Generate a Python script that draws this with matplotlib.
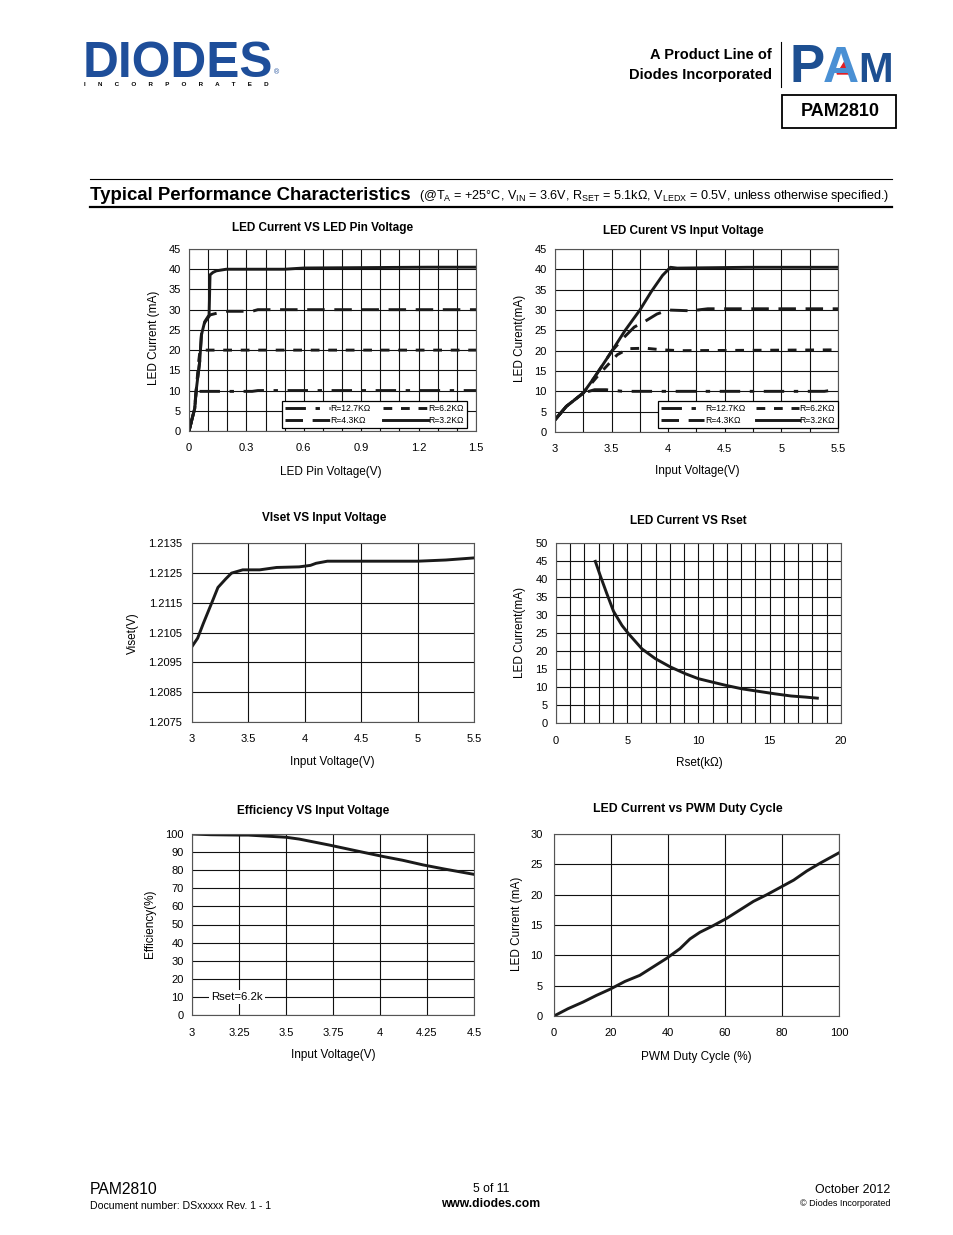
import matplotlib
matplotlib.use("Agg")
import matplotlib.pyplot as plt
import numpy as np
from matplotlib.lines import Line2D
from matplotlib.patches import Rectangle, Polygon

plt.rcParams["font.family"] = ["Liberation Sans", "DejaVu Sans"]
plt.rcParams["mathtext.fontset"] = "custom"
plt.rcParams["mathtext.rm"] = "Liberation Sans"

W, H = 954, 1235

# ---- chart 1: LED current vs LED pin voltage
pin_v_127 = [0, 0.03, 0.036, 0.33, 0.36, 1.5]
pin_i_127 = [0, 5.6, 9.8, 9.8, 10, 10]
pin_v_62 = [0, 0.03, 0.038, 0.05, 0.058, 1.5]
pin_i_62 = [0, 5.6, 10.2, 17, 20, 20]
pin_v_43 = [0, 0.03, 0.038, 0.056, 0.065, 0.082, 0.11, 0.16, 0.2, 0.33, 0.36, 1.5]
pin_i_43 = [0, 5.6, 10.2, 17.2, 23.8, 26.8, 28.7, 29.3, 29.6, 29.6, 30, 30]
pin_v_32 = [0, 0.03, 0.038, 0.056, 0.065, 0.082, 0.105, 0.11, 0.125, 0.143, 0.195, 0.5, 0.6, 1.25, 1.5]
pin_i_32 = [0, 5.6, 10.2, 17.2, 23.8, 27, 28.7, 38.6, 39.2, 39.6, 40, 40, 40.3, 40.5, 40.5]
c1_xticks = [0, 0.3, 0.6, 0.9, 1.2, 1.5]
c1_xlabels = ["0", "0.3", "0.6", "0.9", "1.2", "1.5"]
c1_yticks = [0, 5, 10, 15, 20, 25, 30, 35, 40, 45]

# ---- chart 2: LED current vs input voltage
vin_127 = [3.0, 3.1, 3.25, 3.35, 3.45, 3.6, 5.38, 5.45]
vi_127 = [3.0, 6.3, 9.6, 10.4, 10.4, 10, 10, 10.3]
vin_62 = [3.0, 3.1, 3.25, 3.4, 3.55, 3.65, 3.8, 3.95, 4.1, 5.5]
vi_62 = [3.0, 6.3, 9.6, 14.5, 19, 20.5, 20.6, 20.2, 20, 20.2]
vin_43 = [3.0, 3.1, 3.25, 3.35, 3.5, 3.6, 3.7, 3.8, 3.9, 4.0, 4.2, 4.35, 5.5]
vi_43 = [3.0, 6.3, 9.6, 13.5, 19.8, 23, 25.8, 27.3, 29, 30, 29.8, 30.3, 30.3]
vin_32 = [3.0, 3.1, 3.25, 3.35, 3.5, 3.62, 3.75, 3.85, 3.95, 4.02, 4.08, 4.7, 5.5]
vi_32 = [3.0, 6.3, 9.6, 13.5, 19.8, 25, 30, 34.5, 38.5, 40.5, 40.3, 40.5, 40.5]
c2_xticks = [3, 3.5, 4, 4.5, 5, 5.5]
c2_xlabels = ["3", "3.5", "4", "4.5", "5", "5.5"]

# ---- chart 3: Viset vs input voltage
viset_v = [3.0, 3.05, 3.1, 3.18, 3.23, 3.3, 3.35, 3.45, 3.6, 3.75, 3.95, 4.05, 4.1, 4.2, 5.0, 5.25, 5.5]
viset = [1.21003, 1.21031, 1.2108, 1.21154, 1.21201, 1.2123, 1.21249, 1.2126, 1.2126, 1.21268,
         1.2127, 1.21275, 1.21282, 1.21289, 1.21289, 1.21293, 1.2130]
c3_yticks = [1.2075, 1.2085, 1.2095, 1.2105, 1.2115, 1.2125, 1.2135]
c3_ylabels = ["1.2075", "1.2085", "1.2095", "1.2105", "1.2115", "1.2125", "1.2135"]

# ---- chart 4: LED current vs Rset
rset_k = [2.76, 3.1, 3.57, 4.04, 4.63, 5.09, 6.03, 6.96, 8.01, 9.07, 10.0, 10.93, 11.87, 13.04,
          14.2, 15.37, 16.5, 17.5, 18.34]
rset_i = [44.9, 41, 35.9, 31, 27.1, 24.8, 20.6, 17.9, 15.6, 13.7, 12.3, 11.4, 10.5, 9.5,
          8.8, 8.1, 7.5, 7.2, 6.9]
c4_xticks = [0, 5, 10, 15, 20]
c4_yticks = [0, 5, 10, 15, 20, 25, 30, 35, 40, 45, 50]

# ---- chart 5: efficiency vs input voltage
eff_v = [3.0, 3.1, 3.25, 3.3, 3.5, 3.57, 3.73, 3.91, 4.02, 4.12, 4.23, 4.34, 4.5]
eff = [100, 99.6, 99.4, 99.4, 98.2, 97.2, 93.9, 89.9, 87.5, 85.5, 82.9, 80.7, 77.7]
c5_xticks = [3, 3.25, 3.5, 3.75, 4, 4.25, 4.5]
c5_xlabels = ["3", "3.25", "3.5", "3.75", "4", "4.25", "4.5"]
c5_yticks = [0, 10, 20, 30, 40, 50, 60, 70, 80, 90, 100]

# ---- chart 6: LED current vs PWM duty
duty = [0, 4.9, 10.2, 14.9, 19.6, 24.9, 30.1, 34.8, 39.5, 44.2, 47.7, 51.2, 55.9, 60.6,
        65.3, 70, 74.7, 79.4, 84.1, 88.7, 93.4, 100]
pwm_i = [0, 1.2, 2.3, 3.4, 4.4, 5.7, 6.7, 8.1, 9.5, 11.1, 12.7, 13.8, 14.9, 16.1,
         17.5, 18.9, 20, 21.2, 22.4, 23.9, 25.2, 26.9]
c6_xticks = [0, 20, 40, 60, 80, 100]
c6_yticks = [0, 5, 10, 15, 20, 25, 30]

legend_names = ["R=12.7K\u03a9", "R=4.3K\u03a9", "R=6.2K\u03a9", "R=3.2K\u03a9"]

LC = "#1a1a1a"
LW = 2.1

fig = plt.figure(figsize=(W / 100, H / 100), dpi=100)


def add_ax(l, t, r, b):
    return fig.add_axes([l / W, 1 - b / H, (r - l) / W, (b - t) / H])


def txt(x, y, s, **kw):
    kw.setdefault("ha", "center")
    kw.setdefault("va", "center")
    return fig.text(x / W, 1 - y / H, s, **kw)


def hline(x0, x1, y, lw):
    fig.add_artist(Line2D([x0 / W, x1 / W], [1 - y / H, 1 - y / H], color="black", lw=lw,
                          transform=fig.transFigure))


def style(ax, xlim, ylim, xt, xl, yt, yl, xminor=None, yminor=None, ypad=6):
    ax.set_xlim(xlim)
    ax.set_ylim(ylim)
    ax.set_xticks(xt)
    ax.set_xticklabels(xl)
    ax.set_yticks(yt)
    ax.set_yticklabels(yl)
    if xminor is not None:
        ax.set_xticks(xminor, minor=True)
    if yminor is not None:
        ax.set_yticks(yminor, minor=True)
    ax.grid(True, which="both", color="#111111", lw=0.8)
    ax.set_axisbelow(True)
    ax.tick_params(which="both", length=0, labelsize=8)
    ax.tick_params(axis="x", pad=9)
    ax.tick_params(axis="y", pad=ypad)
    for s in ax.spines.values():
        s.set_color("#555555")
        s.set_linewidth(0.8)


dash127 = (0, (7, 3.3, 1.5, 3.3))
dash62 = (0, (3, 3))
dash43 = (0, (6, 3.3))

# ---------------- header
txt(83, 77, "DIODES", ha="left", va="baseline", fontsize=35.7, fontweight="bold", color="#1e4e9a")
txt(84, 85, "       ".join("INCORPORATED"), ha="left", fontsize=4.5, fontweight="bold",
    color="black")
txt(277, 73, "\u00ae", fontsize=5, color="#1e4e9a")

txt(772, 55, "A Product Line of", ha="right", fontsize=10.5, fontweight="bold")
txt(772, 75, "Diodes Incorporated", ha="right", fontsize=10.5, fontweight="bold")
fig.add_artist(Line2D([781 / W, 781 / W], [1 - 42 / H, 1 - 87 / H], color="black", lw=0.8,
                      transform=fig.transFigure))
txt(790, 82, "P", ha="left", va="baseline", fontsize=38, fontweight="bold", color="#1d4f91")
txt(823, 82, "A", ha="left", va="baseline", fontsize=36, fontweight="bold", color="#4a90d4")
txt(858, 82, "M", ha="left", va="baseline", fontsize=30, fontweight="bold", color="#1d4f91")
fig.add_artist(Polygon([[837 / W, 1 - 74 / H], [852 / W, 1 - 74 / H], [844.5 / W, 1 - 62 / H]],
                       closed=True, color="#e01f26", transform=fig.transFigure))
fig.add_artist(Rectangle((782 / W, 1 - 128 / H), 114 / W, 33 / H, fill=False, lw=1.3,
                         edgecolor="black", transform=fig.transFigure))
txt(840, 112, "PAM2810", fontsize=13, fontweight="bold")

hline(90, 892, 179, 0.8)
hline(90, 892, 206.5, 1.6)
txt(90, 199.5, "Typical Performance Characteristics", ha="left", va="baseline",
    fontsize=13.4, fontweight="bold")
txt(419, 199, r"(@T$_\mathrm{A}$ = +25°C, V$_\mathrm{IN}$ = 3.6V, R$_\mathrm{SET}$ = 5.1k$\Omega$, "
              r"V$_\mathrm{LEDX}$ = 0.5V, unless otherwise specified.)",
    ha="left", va="baseline", fontsize=9.1)

# ---------------- chart 1
ax1 = add_ax(189, 249, 476, 431)
l127, = ax1.plot(pin_v_127, pin_i_127, color=LC, lw=LW, ls=dash127)
l62, = ax1.plot(pin_v_62, pin_i_62, color=LC, lw=LW, ls=dash62)
l43, = ax1.plot(pin_v_43, pin_i_43, color=LC, lw=LW, ls=dash43)
l32, = ax1.plot(pin_v_32, pin_i_32, color=LC, lw=LW)
style(ax1, (0, 1.5), (0, 45), c1_xticks, c1_xlabels, c1_yticks, [str(v) for v in c1_yticks],
      xminor=np.arange(0, 1.51, 0.1))
leg = ax1.legend([l127, l43, l62, l32], legend_names, ncol=2, loc="lower right",
                 bbox_to_anchor=(0.969, 0.016), borderaxespad=0, fontsize=6.2,
                 handlelength=5.2, handletextpad=0.1, columnspacing=1.4, labelspacing=0.35,
                 borderpad=0.35, fancybox=False, framealpha=1, edgecolor="black")
leg.get_frame().set_linewidth(0.9)
txt(323, 228, "LED Current VS LED Pin Voltage", fontsize=8.5, fontweight="bold")
txt(331, 472, "LED Pin Voltage(V)", fontsize=8.5)
txt(154, 338, "LED Current (mA)", fontsize=8.5, rotation=90)

# ---------------- chart 2
ax2 = add_ax(555, 249, 838, 432)
m127, = ax2.plot(vin_127, vi_127, color=LC, lw=LW, ls=dash127)
m62, = ax2.plot(vin_62, vi_62, color=LC, lw=LW, ls=dash62)
m43, = ax2.plot(vin_43, vi_43, color=LC, lw=LW, ls=dash43)
m32, = ax2.plot(vin_32, vi_32, color=LC, lw=LW)
style(ax2, (3, 5.5), (0, 45), c2_xticks, c2_xlabels, c1_yticks, [str(v) for v in c1_yticks],
      xminor=np.arange(3, 5.51, 0.25))
leg = ax2.legend([m127, m43, m62, m32], legend_names, ncol=2, loc="lower right",
                 bbox_to_anchor=(1.0, 0.022), borderaxespad=0, fontsize=6.2,
                 handlelength=5.0, handletextpad=0.1, columnspacing=1.2, labelspacing=0.35,
                 borderpad=0.35, fancybox=False, framealpha=1, edgecolor="black")
leg.get_frame().set_linewidth(0.9)
txt(683, 231, "LED Curent VS Input Voltage", fontsize=8.5, fontweight="bold")
txt(697, 471, "Input Voltage(V)", fontsize=8.5)
txt(520, 338, "LED Curent(mA)", fontsize=8.5, rotation=90)

# ---------------- chart 3
ax3 = add_ax(192, 543, 474, 722)
ax3.plot(viset_v, viset, color=LC, lw=LW)
style(ax3, (3, 5.5), (1.2075, 1.2135), c2_xticks, c2_xlabels, c3_yticks, c3_ylabels, ypad=7)
txt(324, 518, "VIset VS Input Voltage", fontsize=8.5, fontweight="bold")
txt(332, 762, "Input Voltage(V)", fontsize=8.5)
txt(133, 633, "Viset(V)", fontsize=8.5, rotation=90)

# ---------------- chart 4
ax4 = add_ax(556, 543, 841, 723)
ax4.plot(rset_k, rset_i, color=LC, lw=LW)
style(ax4, (0, 20), (0, 50), c4_xticks, [str(v) for v in c4_xticks], c4_yticks,
      [str(v) for v in c4_yticks], xminor=np.arange(0, 21, 1))
txt(688, 521, "LED Current VS Rset", fontsize=8.5, fontweight="bold")
txt(699, 763, "Rset(k\u03a9)", fontsize=8.5)
txt(520, 632, "LED Current(mA)", fontsize=8.5, rotation=90)

# ---------------- chart 5
ax5 = add_ax(192, 834, 474, 1015)
ax5.plot(eff_v, eff, color=LC, lw=LW)
style(ax5, (3, 4.5), (0, 100), c5_xticks, c5_xlabels, c5_yticks, [str(v) for v in c5_yticks])
ax5.text(3.24, 10, "Rset=6.2k", fontsize=8.2, ha="center", va="center",
         bbox=dict(facecolor="white", edgecolor="none", pad=1.5))
txt(313, 811, "Efficiency VS Input Voltage", fontsize=8.5, fontweight="bold")
txt(333, 1055, "Input Voltage(V)", fontsize=8.5)
txt(150, 924, "Efficiency(%)", fontsize=8.5, rotation=90)

# ---------------- chart 6
ax6 = add_ax(554, 834, 839, 1016)
ax6.plot(duty, pwm_i, color=LC, lw=LW)
style(ax6, (0, 100), (0, 30), c6_xticks, [str(v) for v in c6_xticks], c6_yticks,
      [str(v) for v in c6_yticks], ypad=8)
txt(688, 809, "LED Current vs PWM Duty Cycle", fontsize=8.8, fontweight="bold")
txt(696, 1057, "PWM Duty Cycle (%)", fontsize=8.5)
txt(517, 924, "LED Current (mA)", fontsize=8.5, rotation=90)

# ---------------- footer
txt(90, 1190, "PAM2810", ha="left", fontsize=11.3)
txt(90, 1206, "Document number: DSxxxxx Rev. 1 - 1", ha="left", fontsize=7.6)
txt(491, 1189, "5 of 11", fontsize=8.7)
txt(491, 1204, "www.diodes.com", fontsize=8.7, fontweight="bold")
txt(890, 1190, "October 2012", ha="right", fontsize=8.9)
txt(890, 1204, "\u00a9 Diodes Incorporated", ha="right", fontsize=6.5)

fig.savefig("out.png", dpi=100, facecolor="white")
